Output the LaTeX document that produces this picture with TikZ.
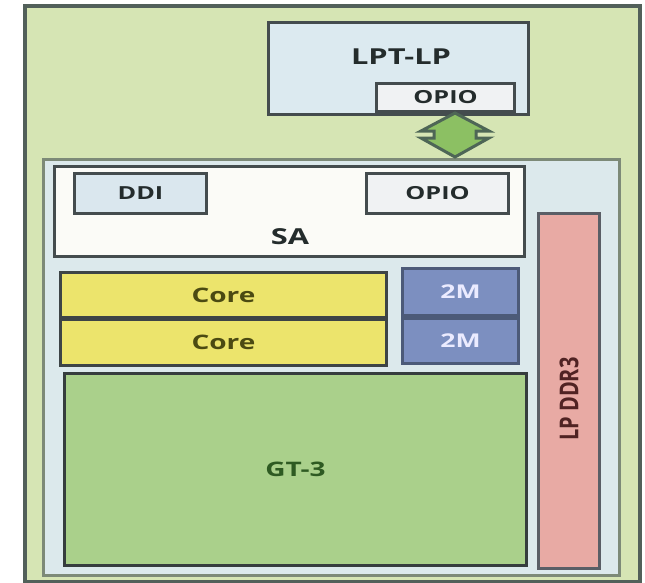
\documentclass[tikz,border=0pt]{standalone}
\usepackage{fontspec}
\setmainfont{Open Sans}
\usetikzlibrary{positioning}
\definecolor{bggreen}{HTML}{D6E5B4}
\definecolor{framegray}{HTML}{52605A}
\definecolor{innergray}{HTML}{7D8A78}
\definecolor{innerblue}{HTML}{DCE9EC}
\definecolor{lptblue}{HTML}{DCEAF0}
\definecolor{edgegray}{HTML}{444C4E}
\definecolor{paleio}{HTML}{F0F2F3}
\definecolor{saface}{HTML}{FBFBF7}
\definecolor{ddiblue}{HTML}{DAE7EE}
\definecolor{coreyellow}{HTML}{ECE46C}
\definecolor{coretext}{HTML}{4B4A12}
\definecolor{cacheblue}{HTML}{7C8FC0}
\definecolor{cacheedge}{HTML}{4C5A78}
\definecolor{gtgreen}{HTML}{AAD08B}
\definecolor{gttext}{HTML}{2E5A22}
\definecolor{ddrpink}{HTML}{E8AAA4}
\definecolor{ddredge}{HTML}{5A5E66}
\definecolor{arrowgreen}{HTML}{8CC063}
\definecolor{arrowedge}{HTML}{4E6656}
\definecolor{labeldark}{HTML}{242C2C}
\tikzset{
  blk/.style={draw=edgegray, line width=3pt, anchor=north west, inner sep=0pt},
  lbl/.style={font=\bfseries, text=labeldark, inner sep=0pt},
}
% horizontally widened label text
\newcommand{\wide}[1]{\scalebox{1.4}[1]{#1}}
\begin{document}
\begin{tikzpicture}[x=1pt, y=-1pt]
\useasboundingbox (0,0) rectangle (645,582);
\fill[white] (0,0) rectangle (645,582);

% package outline
\node[draw=framegray, fill=bggreen, line width=4pt, anchor=north west, inner sep=0pt,
      minimum width=615pt, minimum height=576pt] (pkg) at (23,4) {};

% platform controller hub
\node[blk, fill=lptblue, minimum width=260pt, minimum height=92pt] (lpt) at (267,21) {};
\node[lbl, font=\bfseries\fontsize{22}{22}\selectfont] (lptname) at (401,57) {\wide{LPT-LP}};
\node[blk, fill=paleio, minimum width=138pt, minimum height=28pt] (lptio) at (375,82) {};
\node[lbl, font=\bfseries\fontsize{18}{18}\selectfont] at (lptio.center) {\wide{OPIO}};

% processor die
\node[draw=innergray, fill=innerblue, line width=3pt, anchor=north west, inner sep=0pt,
      minimum width=576pt, minimum height=416pt] (die) at (42,158) {};

% OPIO link between the two dies
\coordinate (ltop) at (455,113);
\coordinate (lbot) at (455,157);
\filldraw[fill=arrowgreen, draw=arrowedge, line width=3pt, line join=miter]
  (ltop) -- (489,131) -- (476,131) -- (476,138) -- (489,138) -- (lbot)
  -- (421,138) -- (434,138) -- (434,131) -- (421,131) -- cycle;

% system agent
\node[blk, fill=saface, minimum width=470pt, minimum height=90pt] (sa) at (53,165) {};
\node[lbl, font=\bfseries\fontsize{22}{22}\selectfont] at (290,237) {\wide{SA}};
\node[blk, fill=ddiblue, minimum width=132pt, minimum height=40pt] (ddi) at (73,172) {};
\node[lbl, font=\bfseries\fontsize{18}{18}\selectfont] at (ddi.center) {\wide{DDI}};
\node[blk, fill=paleio, minimum width=142pt, minimum height=40pt] (saio) at (365,172) {};
\node[lbl, font=\bfseries\fontsize{18}{18}\selectfont] at (saio.center) {\wide{OPIO}};

% cores and caches
\node[blk, fill=coreyellow, draw=edgegray!90!black, minimum width=326pt, minimum height=45pt,
      font=\bfseries\fontsize{20}{20}\selectfont, text=coretext] (core1) at (59,271) {\wide{Core}};
\node[blk, fill=coreyellow, draw=edgegray!90!black, minimum width=326pt, minimum height=46pt,
      font=\bfseries\fontsize{20}{20}\selectfont, text=coretext] (core2) at (59,318) {\wide{Core}};
\node[blk, fill=cacheblue, draw=cacheedge, minimum width=116pt, minimum height=47pt,
      font=\bfseries\fontsize{19}{19}\selectfont, text=white!92!blue] (l2a) at (401,267) {\wide{2M}};
\node[blk, fill=cacheblue, draw=cacheedge, minimum width=116pt, minimum height=45pt,
      font=\bfseries\fontsize{19}{19}\selectfont, text=white!92!blue] (l2b) at (401,317) {\wide{2M}};

% graphics
\node[blk, fill=gtgreen, draw=edgegray!80!black, minimum width=462pt, minimum height=192pt,
      font=\bfseries\fontsize{20}{20}\selectfont, text=gttext] (gt) at (63,372) {\wide{GT-3}};

% memory
\node[blk, fill=ddrpink, draw=ddredge, minimum width=61pt, minimum height=355pt] (ddr) at (537,212) {};
\node[lbl, font=\bfseries\fontsize{20}{20}\selectfont, text=labeldark!80!red, rotate=90]
  at ([yshift=-8pt]ddr.center) {\scalebox{1}[1.3]{LP DDR3}};
\end{tikzpicture}
\end{document}
